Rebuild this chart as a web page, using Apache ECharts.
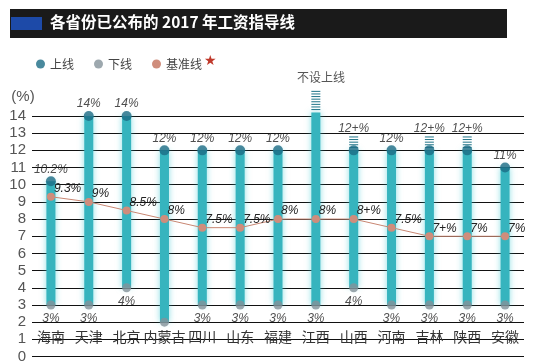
<!DOCTYPE html>
<html><head><meta charset="utf-8">
<script src="https://cdn.jsdelivr.net/npm/echarts@6/dist/echarts.min.js"></script>
<style>html,body{margin:0;padding:0;background:#fff}#c{width:537px;height:364px}</style>
</head><body><div id="c"></div>
<script>
var categories = ['海南','天津','北京','内蒙古','四川','山东','福建','江西','山西','河南','吉林','陕西','安徽'];
var upper = [10.2,14,14,12,12,12,12,null,12,12,12,12,11];
var upperLabels = ['10.2%','14%','14%','12%','12%','12%','12%','','12+%','12%','12+%','12+%','11%'];
var barTop = [10.2,14,14,12,12,12,12,14.2,12,12,12,12,11];
var dashTop = [null,null,null,null,null,null,null,15.5,12.8,null,12.8,12.8,null];
var lower = [3,3,4,2,3,3,3,3,4,3,3,3,3];
var lowerLabels = ['3%','3%','4%','','3%','3%','3%','3%','4%','3%','3%','3%','3%'];
var base = [9.3,9,8.5,8,7.5,7.5,8,8,8,7.5,7,7,7];
var baseLabels = ['9.3%','9%','8.5%','8%','7.5%','7.5%','8%','8%','8+%','7.5%','7+%','7%','7%'];

var chart = echarts.init(document.getElementById('c'), null, {renderer:'canvas'});

var rangeData = categories.map(function(c,i){ return [i, lower[i], barTop[i], dashTop[i]]; });

chart.setOption({
  animation:false,
  graphic:[
    {type:'rect', shape:{x:10,y:9,width:497,height:29}, style:{fill:'#1a1a1a'}},
    {type:'rect', shape:{x:11,y:17,width:31,height:13}, style:{fill:'#1d4aa8'}},
    {type:'text', left:50, top:14, style:{text:'各省份已公布的 2017 年工资指导线', fill:'#fff', font:'bold 15.5px "Noto Sans CJK SC"'}},
    {type:'text', left:204, top:54, style:{text:'★', fill:'#c0392b', font:'14px "DejaVu Sans"'}},
    {type:'text', x:321, y:77, style:{text:'不设上线', fill:'#555', font:'12px "Noto Sans CJK SC"', align:'center', verticalAlign:'middle'}}
  ],
  legend:{
    left:31, top:53, itemWidth:9, itemHeight:9, itemGap:20,
    icon:'circle',
    textStyle:{fontFamily:'Noto Sans CJK SC', fontSize:12, color:'#444'},
    data:['上线','下线','基准线']
  },
  grid:{left:32, right:13, top:116, bottom:2, containLabel:false},
  xAxis:{
    type:'category', data:categories,
    axisLine:{show:false}, axisTick:{show:false},
    axisLabel:{interval:0, margin:-27, fontFamily:'Noto Sans CJK SC', fontSize:14, color:'#333'}
  },
  yAxis:{
    type:'value', min:0, max:14, interval:1,
    name:'(%)', nameLocation:'end', nameGap:12,
    nameTextStyle:{fontFamily:'Liberation Sans', fontSize:15, color:'#555', align:'center', padding:[0,18,0,0]},
    axisLine:{show:false}, axisTick:{show:false},
    axisLabel:{margin:6, fontFamily:'Liberation Sans', fontSize:15, color:'#555'},
    splitLine:{lineStyle:{color:'#111', width:1}}
  },
  series:[
    {
      type:'custom', name:'range', clip:false, z:2,
      data:rangeData,
      encode:{x:0, y:[1,2]},
      renderItem:function(params, api){
        var lo = api.coord([api.value(0), api.value(1)]);
        var hi = api.coord([api.value(0), api.value(2)]);
        var w = 9;
        var children = [{
          type:'rect',
          shape:{x:lo[0]-w/2, y:hi[1], width:w, height:lo[1]-hi[1]},
          style:{fill:'#36b4be', shadowBlur:6, shadowColor:'rgba(60,200,210,0.6)'}
        }];
        var dt = api.value(3);
        if (dt != null && !isNaN(dt)) {
          var top = api.coord([api.value(0), dt]);
          var startY = hi[1] - 3;
          for (var y = startY; y >= top[1]; y -= 2.6) {
            children.push({type:'line', shape:{x1:lo[0]-w/2, y1:y, x2:lo[0]+w/2, y2:y}, style:{stroke:'#1f7488', lineWidth:1}});
          }
        }
        return {type:'group', children:children};
      }
    },
    {
      type:'line', name:'基准线', data:base, z:3,
      symbol:'circle', symbolSize:8,
      itemStyle:{color:'#cf8d7c'},
      lineStyle:{color:'#c88672', width:1},
      label:{show:true, position:'right', distance:1, offset:[-2,-8],
        formatter:function(p){return baseLabels[p.dataIndex];}, fontFamily:'Liberation Sans', fontStyle:'italic', fontSize:12, color:'#222'}
    },
    {
      type:'scatter', name:'上线', data:upper, z:4,
      symbol:'circle', symbolSize:10,
      itemStyle:{color:'#1c6c84'},
      label:{show:true, position:'top', distance:1, offset:[0,3],
        formatter:function(p){return upperLabels[p.dataIndex];},
        fontFamily:'Liberation Sans', fontStyle:'italic', fontSize:12, color:'#222'},
      labelLayout:function(p){
        var i = p.dataIndex;
        if (dashTop[i] != null) return {dy:-10};
        return {};
      }
    },
    {
      type:'scatter', name:'下线', data:lower, z:4,
      symbol:'circle', symbolSize:9,
      itemStyle:{color:'#84929a'},
      label:{show:true, position:'bottom', distance:0, offset:[0,3],
        formatter:function(p){return lowerLabels[p.dataIndex];},
        fontFamily:'Liberation Sans', fontStyle:'italic', fontSize:12, color:'#222'}
    }
  ]
});
</script></body></html>
